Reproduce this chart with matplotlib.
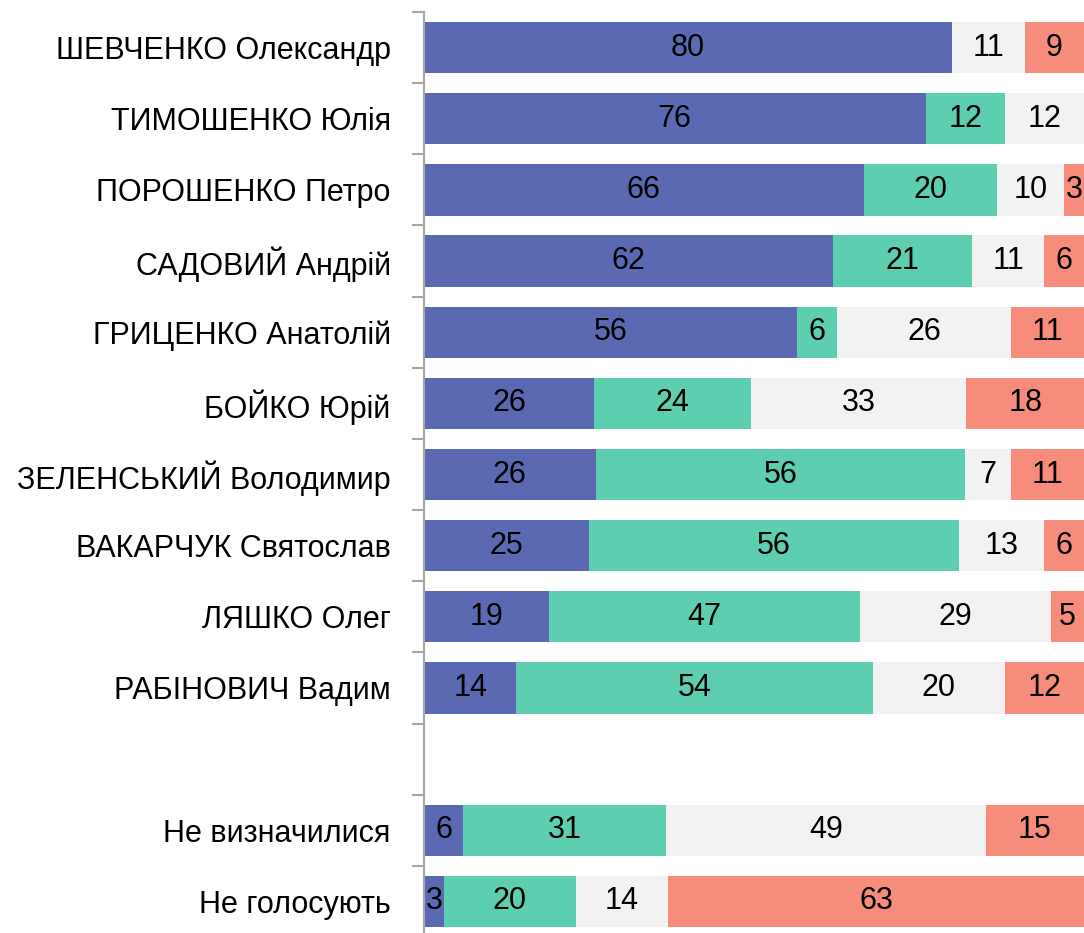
import matplotlib
matplotlib.use("Agg")
import matplotlib.pyplot as plt
import numpy as np
from matplotlib import font_manager

names = ["ШЕВЧЕНКО Олександр", "ТИМОШЕНКО Юлія", "ПОРОШЕНКО Петро", "САДОВИЙ Андрій",
         "ГРИЦЕНКО Анатолій", "БОЙКО Юрій", "ЗЕЛЕНСЬКИЙ Володимир", "ВАКАРЧУК Святослав",
         "ЛЯШКО Олег", "РАБІНОВИЧ Вадим", "", "Не визначилися", "Не голосують"]
blue = [80, 76, 66, 62, 56, 26, 26, 25, 19, 14, 0, 6, 3]
teal = [0, 12, 20, 21, 6, 24, 56, 56, 47, 54, 0, 31, 20]
grey = [11, 12, 10, 11, 26, 33, 7, 13, 29, 20, 0, 49, 14]
red = [9, 0, 3, 6, 11, 18, 11, 6, 5, 12, 0, 15, 63]

avail = {f.name for f in font_manager.fontManager.ttflist}
fam = [f for f in ["Liberation Sans Narrow", "Arial Narrow", "Liberation Sans", "DejaVu Sans"] if f in avail]
narrow = fam and fam[0] in ("Liberation Sans Narrow", "Arial Narrow")
plt.rcParams['font.family'] = fam
fs = 25 if narrow else 22

fig = plt.figure(figsize=(10.84, 9.33), dpi=100)
ax = fig.add_axes([424/1084, -4/933, 660/1084, 925/933])

series = [blue, teal, grey, red]
colors = ["#5B69B3", "#5DCFB0", "#F2F2F2", "#F68D7C"]
data = np.array(series, dtype=float)
totals = data.sum(axis=0)
totals[totals == 0] = 1
widths = data / totals * 100

y = np.arange(len(names))
left = np.zeros(len(names))
for vals, w_row, c in zip(series, widths, colors):
    ax.barh(y, w_row, left=left, height=0.72, color=c, edgecolor="none")
    for yi, (l, w, v) in enumerate(zip(left, w_row, vals)):
        if v > 0:
            ax.text(l + w/2, yi, f"{int(v)}", ha="center", va="center", fontsize=fs, color="black")
    left += w_row

ax.set_xlim(0, 100)
ax.set_ylim(len(names) - 0.5, -0.5)
ax.set_yticks(y)
ax.set_yticklabels(names, fontsize=fs)
ax.set_yticks(np.arange(-0.5, len(names) + 0.5, 1), minor=True)
ax.tick_params(axis="y", which="major", length=0, pad=24)
ax.tick_params(axis="y", which="minor", length=9, width=1.5, color="#A6A6A6")
ax.set_xticks([])
for s in ["top", "right", "bottom"]:
    ax.spines[s].set_visible(False)
ax.spines["left"].set_color("#A6A6A6")
ax.spines["left"].set_linewidth(1.5)

fig.savefig("out.png", dpi=100)
